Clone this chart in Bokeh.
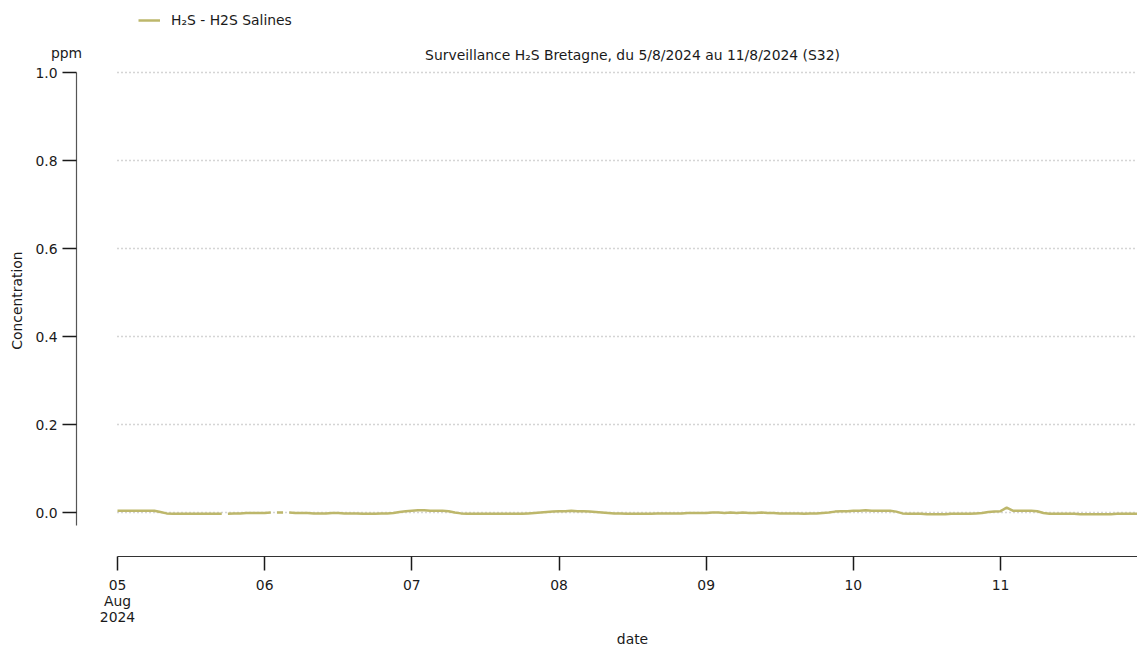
import numpy as np
import pandas as pd
from bokeh.plotting import figure
from bokeh.models import (Range1d, FixedTicker, Legend, LegendItem, Label,
                          ColumnDataSource, NumeralTickFormatter)
from bokeh.embed import file_html
from bokeh.resources import INLINE

# ---------------- data (ppm, hourly) ----------------
start_day = "2024-08-05"
aug05 = [0.004, 0.004, 0.004, 0.004, 0.004, 0.004, 0.004, 0.001, -0.002, -0.003,
         -0.003, -0.003, -0.003, -0.003, -0.003, -0.003, -0.003, -0.003, -0.003, -0.002,
         -0.002, -0.001, -0.001, -0.001]
aug06 = [-0.001, 0.000, 0.000, 0.000, 0.000, -0.001, -0.001, -0.001, -0.002, -0.002,
         -0.002, -0.001, -0.001, -0.002, -0.002, -0.002, -0.003, -0.003, -0.003, -0.002,
         -0.002, -0.001, 0.001, 0.003]
aug07 = [0.004, 0.005, 0.005, 0.004, 0.004, 0.004, 0.003, 0.000, -0.002, -0.003,
         -0.003, -0.003, -0.003, -0.003, -0.003, -0.003, -0.003, -0.003, -0.003, -0.002,
         -0.001, 0.000, 0.001, 0.002]
aug08 = [0.003, 0.003, 0.004, 0.003, 0.003, 0.002, 0.001, 0.000, -0.001, -0.002,
         -0.002, -0.003, -0.003, -0.003, -0.003, -0.003, -0.002, -0.002, -0.002, -0.002,
         -0.002, -0.001, -0.001, -0.001]
aug09 = [-0.001, 0.000, 0.000, -0.001, 0.000, -0.001, 0.000, -0.001, -0.001, 0.000,
         -0.001, -0.001, -0.002, -0.002, -0.002, -0.002, -0.003, -0.002, -0.002, -0.001,
         0.000, 0.002, 0.003, 0.003]
aug10 = [0.004, 0.004, 0.005, 0.004, 0.004, 0.004, 0.004, 0.002, -0.002, -0.003,
         -0.003, -0.003, -0.004, -0.004, -0.004, -0.004, -0.003, -0.003, -0.003, -0.003,
         -0.002, -0.001, 0.001, 0.002]
aug11 = [0.003, 0.011, 0.004, 0.004, 0.004, 0.004, 0.003, -0.001, -0.003, -0.003,
         -0.003, -0.003, -0.003, -0.004, -0.004, -0.004, -0.004, -0.004, -0.004, -0.003,
         -0.003, -0.003, -0.003, -0.003]
gap_hours = [17.1, 25.1, 27.6]   # missing measurements (hours after start)

y_ticks = [0.0, 0.2, 0.4, 0.6, 0.8, 1.0]
day_labels = ["05\nAug\n2024", "06", "07", "08", "09", "10", "11"]

series_label = "H\u2082S - H2S Salines"
title_text = "Surveillance H\u2082S Bretagne, du 5/8/2024 au 11/8/2024 (S32)"
unit_text = "ppm"
y_title = "Concentration"
x_title = "date"

# ---------------- build source ----------------
values = aug05 + aug06 + aug07 + aug08 + aug09 + aug10 + aug11
hours = np.concatenate([np.arange(len(values), dtype=float), np.array(gap_hours)])
vals = np.concatenate([np.array(values, float), np.full(len(gap_hours), np.nan)])
order = np.argsort(hours)
t0 = pd.Timestamp(start_day)
times = t0 + pd.to_timedelta(hours[order], unit="h")
src = ColumnDataSource(data=dict(t=times, v=vals[order]))

FONT = "DejaVu Sans"
FS = "13.9px"
TXT = "#1a1a1a"
LINE_COLOR = "#bdb76b"
W, H = 1137, 645
left, right, top, bottom = 76, 0, 0, 89
fh = H - top - bottom            # frame bottom at y=556
fw = W - left - right
px_per_day = 147.17
px_per_unit = 440.0
x_start = t0 - pd.Timedelta(days=41 / px_per_day)
x_end = x_start + pd.Timedelta(days=fw / px_per_day)
y_start = -0.1
y_end = y_start + fh / px_per_unit

p = figure(width=W, height=H, x_axis_type="datetime", title=None,
           x_range=Range1d(x_start, x_end), y_range=Range1d(y_start, y_end),
           output_backend="svg", toolbar_location=None,
           min_border_left=left, min_border_right=right,
           min_border_top=top, min_border_bottom=bottom)
p.outline_line_color = None
p.background_fill_color = "white"
p.border_fill_color = "white"

r = p.line(x="t", y="v", source=src, line_color=LINE_COLOR, line_width=2.5)

ms = lambda ts: ts.value / 1e6

# x axis
day_ticks = [ms(t0 + pd.Timedelta(days=i)) for i in range(len(day_labels))]
xa = p.xaxis[0]
xa.ticker = FixedTicker(ticks=day_ticks)
xa.major_label_overrides = {tk: lab for tk, lab in zip(day_ticks, day_labels)}
xa.bounds = (ms(t0), ms(x_end))
xa.minor_tick_line_color = None
xa.major_tick_in = 0
xa.major_tick_out = 14
xa.major_tick_line_width = 1.5
xa.major_tick_line_color = TXT
xa.axis_line_color = "#333333"
xa.axis_line_width = 1.2
xa.major_label_standoff = 6
xa.major_label_text_font = FONT
xa.major_label_text_font_size = FS
xa.major_label_text_color = TXT
xa.major_label_text_line_height = 1.0

# y axis
ya = p.yaxis[0]
ya.ticker = FixedTicker(ticks=y_ticks)
ya.formatter = NumeralTickFormatter(format="0.0")
ya.bounds = (-0.03, 1.0)
ya.minor_tick_line_color = None
ya.major_tick_in = 0
ya.major_tick_out = 14
ya.major_tick_line_width = 1.5
ya.major_tick_line_color = TXT
ya.axis_line_color = "#555555"
ya.axis_line_width = 1.2
ya.major_label_standoff = 5
ya.major_label_text_font = FONT
ya.major_label_text_font_size = FS
ya.major_label_text_color = TXT

# grid
p.xgrid.grid_line_color = None
p.ygrid.ticker = FixedTicker(ticks=y_ticks)
p.ygrid.grid_line_color = "#aaaaaa"
p.ygrid.grid_line_width = 1.5
p.ygrid.grid_line_dash = "1 3"
p.ygrid.cross_bounds = (ms(t0), ms(x_end))

# title and legend inside the main frame (screen units from the frame's bottom-left)
p.add_layout(Label(x=632 - left, y=(top + fh) - 54, x_units="screen", y_units="screen",
                   text=title_text, text_font=FONT, text_font_size=FS, text_color=TXT,
                   text_align="center", text_baseline="middle"))
legend = Legend(items=[LegendItem(label=series_label, renderers=[r])],
                location=(138 - left, (top + fh) - 12 - 16), orientation="horizontal",
                glyph_width=22, glyph_height=16, label_height=16, label_standoff=11,
                padding=0, margin=0, border_line_alpha=0, background_fill_alpha=0,
                label_text_font=FONT, label_text_font_size=FS, label_text_color=TXT)
p.add_layout(legend)

# ---------------- transparent text layer over the whole canvas ----------------
# (pixel-based ranges, y pointing down, for the texts that lie outside the frame)
over = figure(width=W, height=H, title=None, x_range=Range1d(0, W), y_range=Range1d(H, 0),
              output_backend="svg", toolbar_location=None,
              x_axis_location=None, y_axis_location=None,
              min_border=0, min_border_left=0, min_border_right=0,
              min_border_top=0, min_border_bottom=0)
over.grid.visible = False
over.outline_line_color = None
over.background_fill_alpha = 0
over.border_fill_alpha = 0
over.styles = {"position": "absolute", "top": "0px", "left": "0px"}

def lab(text, cx, cy, **kw):
    over.add_layout(Label(x=cx, y=cy, text=text, text_font=FONT, text_font_size=FS,
                          text_color=TXT, text_align="center", text_baseline="middle", **kw))

lab(unit_text, 66, 52)
lab(x_title, 632, 638)
lab(y_title, 16, 300, angle=np.pi / 2)

open("out.html", "w").write(file_html([p, over], INLINE))
